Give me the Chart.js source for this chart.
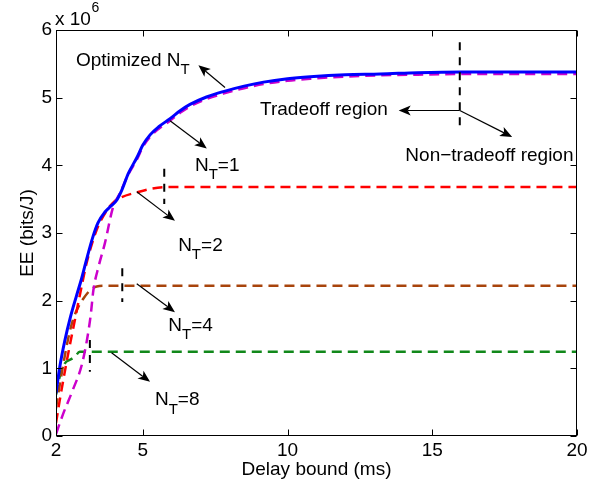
<!DOCTYPE html>
<html>
<head>
<meta charset="utf-8">
<script src="https://cdn.jsdelivr.net/npm/chart.js@4.4.1/dist/chart.umd.min.js"></script>
<style>
  html, body { margin: 0; padding: 0; background: #fff; }
  #wrap { width: 600px; height: 487px; }
</style>
</head>
<body>
<div id="wrap"><canvas id="eeChart" width="600" height="487"></canvas></div>
<script>
// EE values are in units of 10^6 bits/J, delay bound in ms

// optimized N_T (solid blue)
const optDelay = [2, 2.13, 2.3, 2.5, 2.7, 2.88, 3.05, 3.28, 3.45, 3.69, 3.9, 4.09, 4.27, 4.5, 4.8, 5.0, 5.25, 5.55, 5.94, 6.3, 6.63, 7.2, 7.78, 8.5, 9.17, 10, 10.78, 12, 13.2, 14.5, 16, 18, 20];
const optEE = [0.63, 1.02, 1.40, 1.76, 2.06, 2.32, 2.60, 2.95, 3.15, 3.31, 3.40, 3.48, 3.63, 3.88, 4.12, 4.30, 4.45, 4.57, 4.69, 4.81, 4.90, 5.01, 5.09, 5.17, 5.23, 5.28, 5.31, 5.34, 5.35, 5.37, 5.38, 5.38, 5.38];

// N_T = 1
const n1Delay = [2, 2.24, 2.58, 2.89, 3.07, 3.2, 3.29, 3.48, 3.69, 3.97, 4.21, 4.48, 4.8, 5.0, 5.25, 5.55, 5.94, 6.3, 6.63, 7.2, 7.78, 8.5, 9.17, 10, 10.78, 12, 13.2, 14.5, 16, 18, 20];
const n1EE = [0.03, 0.32, 0.68, 1.05, 1.42, 1.79, 2.15, 2.52, 2.85, 3.38, 3.59, 3.85, 4.09, 4.27, 4.42, 4.54, 4.66, 4.78, 4.87, 4.98, 5.06, 5.14, 5.20, 5.25, 5.28, 5.31, 5.33, 5.34, 5.35, 5.35, 5.35];

// N_T = 2
const n2Delay = [2, 2.13, 2.36, 2.65, 2.88, 3.06, 3.4, 3.75, 4.0, 4.27, 4.79, 5.25, 5.94, 8, 12, 16, 20];
const n2EE = [0.19, 0.53, 1.08, 1.71, 2.20, 2.56, 3.04, 3.33, 3.46, 3.53, 3.60, 3.65, 3.68, 3.68, 3.68, 3.68, 3.68];

// N_T = 4
const n4Delay = [2, 2.1, 2.24, 2.41, 2.58, 2.75, 2.93, 3.17, 3.41, 3.7, 8, 14, 20];
const n4EE = [0.41, 0.68, 1.03, 1.42, 1.71, 1.89, 2.02, 2.15, 2.21, 2.22, 2.22, 2.22, 2.22];

// N_T = 8
const n8Delay = [2, 2.13, 2.3, 2.5, 2.65, 2.82, 8, 14, 20];
const n8EE = [0.61, 0.88, 1.07, 1.13, 1.17, 1.245, 1.245, 1.245, 1.245];

// dashed vertical bounds between tradeoff / non-tradeoff regions
const boundDelay = [3.17, 4.29, 5.74, 15.95];
const boundTop = [1.42, 2.48, 3.95, 5.82];
const boundBottom = [0.95, 1.98, 3.43, 4.52];

const xTicks = [2, 5, 10, 15, 20];
const yTicks = [0, 1, 2, 3, 4, 5, 6];

const FONT = '"Liberation Sans", Arial, Helvetica, sans-serif';

function pts(xs, ys) {
  return xs.map((x, i) => ({ x: x, y: ys[i] }));
}

function curve(label, xs, ys, color, dash, width, order) {
  return {
    label: label,
    data: pts(xs, ys),
    borderColor: color,
    borderWidth: width,
    borderDash: dash,
    pointRadius: 0,
    fill: false,
    cubicInterpolationMode: 'monotone',
    order: order
  };
}

const datasets = [
  curve('Optimized N_T', optDelay, optEE, '#0000ff', [], 3, 1),
  curve('N_T=1', n1Delay, n1EE, '#cc00cc', [10, 6], 2.5, 2),
  curve('N_T=2', n2Delay, n2EE, '#ff0000', [10, 6], 2.5, 3),
  curve('N_T=4', n4Delay, n4EE, '#a8440c', [10, 6], 2.5, 4),
  curve('N_T=8', n8Delay, n8EE, '#11881a', [10, 6], 2.5, 5)
];
boundDelay.forEach((d, i) => {
  datasets.push({
    label: 'bound ' + i,
    data: [{ x: d, y: boundTop[i] }, { x: d, y: boundBottom[i] }],
    borderColor: '#000',
    borderWidth: 2,
    borderDash: [8, 7],
    pointRadius: 0,
    order: 0
  });
});

// text + arrows, placed in data coordinates
const labels = [
  { x: 2.69, y: 5.571, main: 'Optimized N', sub: 'T', rest: '' },
  { x: 6.80, y: 4.02, main: 'N', sub: 'T', rest: '=1' },
  { x: 6.22, y: 2.84, main: 'N', sub: 'T', rest: '=2' },
  { x: 5.88, y: 1.65, main: 'N', sub: 'T', rest: '=4' },
  { x: 5.42, y: 0.556, main: 'N', sub: 'T', rest: '=8' },
  { x: 9.05, y: 4.84, main: 'Tradeoff region', sub: '', rest: '' },
  { x: 14.07, y: 4.17, main: 'Non\u2212tradeoff region', sub: '', rest: '' }
];
const arrows = [
  [7.84, 5.15, 6.92, 5.48],
  [5.94, 4.66, 7.21, 4.25],
  [4.79, 3.61, 6.11, 3.18],
  [4.79, 2.25, 6.11, 1.83],
  [3.92, 1.23, 5.25, 0.80],
  [15.95, 4.81, 13.84, 4.81],
  [15.95, 4.81, 17.76, 4.42]
];

function drawArrow(ctx, x0, y0, x1, y1) {
  const ang = Math.atan2(y1 - y0, x1 - x0);
  const len = 12, half = 5, back = 3;
  ctx.beginPath();
  ctx.moveTo(x0, y0);
  ctx.lineTo(x1 - Math.cos(ang) * (len - back), y1 - Math.sin(ang) * (len - back));
  ctx.stroke();
  ctx.save();
  ctx.translate(x1, y1);
  ctx.rotate(ang);
  ctx.beginPath();
  ctx.moveTo(0, 0);
  ctx.lineTo(-len, -half);
  ctx.lineTo(-len + back, 0);
  ctx.lineTo(-len, half);
  ctx.closePath();
  ctx.fill();
  ctx.restore();
}

function drawLabel(ctx, px, py, l) {
  const base = py + 0.36 * 19;
  ctx.font = '19px ' + FONT;
  ctx.fillText(l.main, px, base);
  let cx = px + ctx.measureText(l.main).width;
  if (l.sub) {
    ctx.font = '15px ' + FONT;
    ctx.fillText(l.sub, cx, base + 8.3);
    cx += ctx.measureText(l.sub).width;
  }
  if (l.rest) {
    ctx.font = '19px ' + FONT;
    ctx.fillText(l.rest, cx, base);
  }
}

const figureExtras = {
  id: 'figureExtras',
  afterDatasetsDraw(chart) {
    const { ctx, chartArea: a, scales: { x, y } } = chart;
    ctx.save();
    ctx.strokeStyle = '#000';
    ctx.fillStyle = '#000';
    ctx.lineWidth = 1;

    // axes box
    const L = Math.round(a.left) + 0.5, R = Math.round(a.right) - 0.5;
    const T = Math.round(a.top) + 0.5, B = Math.round(a.bottom) - 0.5;
    ctx.strokeRect(L, T, R - L, B - T);

    // inward ticks on all four sides
    const tl = 6;
    ctx.beginPath();
    xTicks.forEach(v => {
      const px = Math.round(x.getPixelForValue(v)) + 0.5;
      ctx.moveTo(px, B); ctx.lineTo(px, B - tl);
      ctx.moveTo(px, T); ctx.lineTo(px, T + tl);
    });
    yTicks.forEach(v => {
      const py = Math.round(y.getPixelForValue(v)) + 0.5;
      ctx.moveTo(L, py); ctx.lineTo(L + tl, py);
      ctx.moveTo(R, py); ctx.lineTo(R - tl, py);
    });
    ctx.stroke();

    // arrows
    ctx.lineWidth = 1.2;
    arrows.forEach(ar => {
      drawArrow(ctx, x.getPixelForValue(ar[0]), y.getPixelForValue(ar[1]),
        x.getPixelForValue(ar[2]), y.getPixelForValue(ar[3]));
    });

    // annotation text
    ctx.textAlign = 'left';
    ctx.textBaseline = 'alphabetic';
    labels.forEach(l => drawLabel(ctx, x.getPixelForValue(l.x), y.getPixelForValue(l.y), l));

    // exponent above the y axis
    ctx.font = '19px ' + FONT;
    ctx.fillText('x 10', a.left - 1, a.top - 5);
    ctx.font = '14px ' + FONT;
    ctx.fillText('6', a.left + 35.5, a.top - 18.5);

    // axis titles
    ctx.font = '19px ' + FONT;
    ctx.textAlign = 'center';
    ctx.fillText('Delay bound (ms)', (a.left + a.right) / 2, 474.8);
    ctx.save();
    ctx.translate(32.8, (a.top + a.bottom) / 2);
    ctx.rotate(-Math.PI / 2);
    ctx.fillText('EE (bits/J)', 0, 0);
    ctx.restore();

    ctx.restore();
  }
};

new Chart(document.getElementById('eeChart').getContext('2d'), {
  type: 'line',
  data: { datasets: datasets },
  options: {
    responsive: false,
    animation: false,
    devicePixelRatio: 1,
    layout: { padding: { top: 30, right: 23, bottom: 0, left: 0 } },
    plugins: {
      legend: { display: false },
      tooltip: { enabled: false }
    },
    scales: {
      x: {
        type: 'linear',
        min: 2,
        max: 20,
        grid: { display: false, drawTicks: false },
        border: { display: false },
        afterBuildTicks: s => { s.ticks = xTicks.map(v => ({ value: v })); },
        afterFit: s => { s.height = 51; },
        ticks: { color: '#000', font: { family: FONT, size: 19 }, padding: 3, maxRotation: 0 }
      },
      y: {
        type: 'linear',
        min: 0,
        max: 6,
        grid: { display: false, drawTicks: false },
        border: { display: false },
        afterBuildTicks: s => { s.ticks = yTicks.map(v => ({ value: v })); },
        afterFit: s => { s.width = 56; },
        ticks: { color: '#000', font: { family: FONT, size: 19 }, padding: 4 }
      }
    }
  },
  plugins: [figureExtras]
});
</script>
</body>
</html>
